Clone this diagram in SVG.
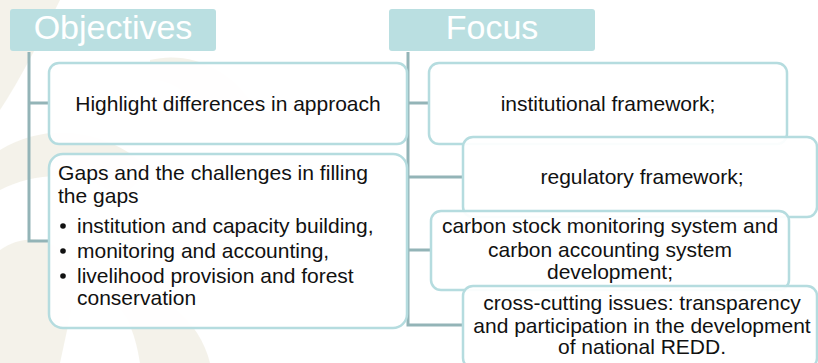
<svg xmlns="http://www.w3.org/2000/svg" width="818" height="363" viewBox="0 0 818 363">
<style>
.hdr{fill:#badfe1}
.hdrtxt{font-family:"Liberation Sans",Arial,sans-serif;font-size:34px;fill:#ffffff;text-anchor:middle}
.box{fill:#ffffff;fill-opacity:0.93;stroke:#b5dcdf;stroke-width:2.5}
.t{font-family:"Liberation Sans",Arial,sans-serif;font-size:21px;fill:#111111}
.c{text-anchor:middle}
.conn{stroke:#93b4b7;stroke-width:3;fill:none}
.wm{fill:#e9e6d6;opacity:0.5}
</style>
<rect width="818" height="363" fill="#ffffff"/>
<g id="watermark">
<path class="wm" d="M0,0 H60 C40,40 20,80 0,110 Z"/>
<path class="wm" d="M0,150 C50,120 110,130 150,170 L120,200 C90,170 40,170 0,190 Z"/>
<path class="wm" d="M0,250 C30,230 60,240 80,270 L60,363 H0 Z"/>
<path class="wm" d="M120,280 C160,290 200,320 210,363 H140 C135,330 125,310 110,300 Z"/>
<path class="wm" d="M150,60 C190,50 230,70 250,100 L200,110 C185,90 170,80 150,80 Z"/>
</g>
<g id="connectors">
<path class="conn" d="M29,52 V241 H49 M29,103 H49"/>
<path class="conn" d="M408,52 V325 H463 M408,103 H429 M408,177 H463 M408,250 H431"/>
</g>
<g id="objectives">
<rect class="hdr" x="10" y="9" width="206" height="42" rx="3"/>
<text class="hdrtxt" x="113" y="39">Objectives</text>
</g>
<g id="focus">
<rect class="hdr" x="389" y="9" width="206" height="42" rx="3"/>
<text class="hdrtxt" x="492" y="39">Focus</text>
</g>
<g id="highlight">
<rect class="box" x="49" y="63" width="358" height="81" rx="10"/>
<text class="t c" x="228" y="111">Highlight differences in approach</text>
</g>
<g id="gaps">
<rect class="box" x="49" y="154" width="358" height="174" rx="14"/>
<text class="t" x="58" y="180" font-size="20" textLength="310" lengthAdjust="spacingAndGlyphs">Gaps and the challenges in filling</text>
<text class="t" x="58" y="203" font-size="20">the gaps</text>
<circle cx="63" cy="226" r="2.8" fill="#111"/>
<text class="t" x="77" y="233">institution and capacity building,</text>
<circle cx="63" cy="251" r="2.8" fill="#111"/>
<text class="t" x="77" y="258">monitoring and accounting,</text>
<circle cx="63" cy="276" r="2.8" fill="#111"/>
<text class="t" x="77" y="283">livelihood provision and forest</text>
<text class="t" x="77" y="305">conservation</text>
</g>
<g id="institutional">
<rect class="box" x="429" y="63" width="358" height="81" rx="10"/>
<text class="t c" x="608" y="111">institutional framework;</text>
</g>
<g id="regulatory">
<rect class="box" x="463" y="137" width="354" height="80" rx="10"/>
<text class="t c" x="642" y="184">regulatory framework;</text>
</g>
<g id="carbon">
<rect class="box" x="431" y="211" width="358" height="79" rx="10"/>
<text class="t c" x="610" y="233">carbon stock monitoring system and</text>
<text class="t c" x="610" y="257">carbon accounting system</text>
<text class="t c" x="610" y="279">development;</text>
</g>
<g id="crosscutting">
<rect class="box" x="463" y="286" width="354" height="82" rx="10"/>
<text class="t c" x="642" y="310">cross-cutting issues: transparency</text>
<text class="t c" x="642" y="333">and participation in the development</text>
<text class="t c" x="642" y="354">of national REDD.</text>
</g>
</svg>
